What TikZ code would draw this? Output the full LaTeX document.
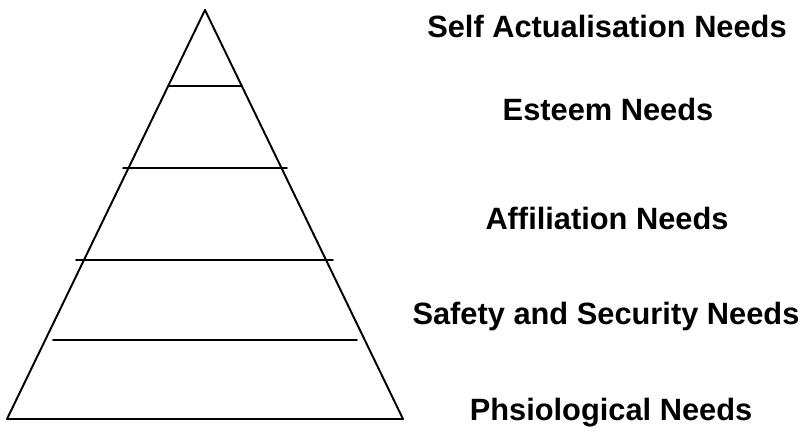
\documentclass[tikz,border=0pt]{standalone}
\usepackage{fontspec}
\setmainfont{Liberation Sans}
\begin{document}
\begin{tikzpicture}[x=0.75pt,y=-0.75pt,
  edge/.style={line width=1.45pt,line join=round,line cap=round},
  level/.style={font=\fontsize{23.1}{27}\selectfont\bfseries,anchor=base,inner sep=0pt}]
\useasboundingbox (0,0) rectangle (804,434);
% pyramid outline
\coordinate (apex) at (205,10);
\coordinate (bl) at (7,419);
\coordinate (br) at (403,419);
\draw[edge] (apex) -- (br) -- (bl) -- cycle;
% dividing lines between the levels
\coordinate (d1l) at (168,86);  \coordinate (d1r) at (242,86);
\coordinate (d2l) at (123,168); \coordinate (d2r) at (287,168);
\coordinate (d3l) at (76,260);  \coordinate (d3r) at (333,260);
\coordinate (d4l) at (53,340);  \coordinate (d4r) at (357,340);
\draw[edge] (d1l) -- (d1r);
\draw[edge] (d2l) -- (d2r);
\draw[edge] (d3l) -- (d3r);
\draw[edge] (d4l) -- (d4r);
% level names
\node[level] (l1) at (607,38) {Self Actualisation Needs};
\node[level] (l2) at (608,121) {Esteem Needs};
\node[level] (l3) at (607,230) {Affiliation Needs};
\node[level] (l4) at (606,325) {Safety and Security Needs};
\node[level] (l5) at (611,421) {Phsiological Needs};
\end{tikzpicture}
\end{document}
